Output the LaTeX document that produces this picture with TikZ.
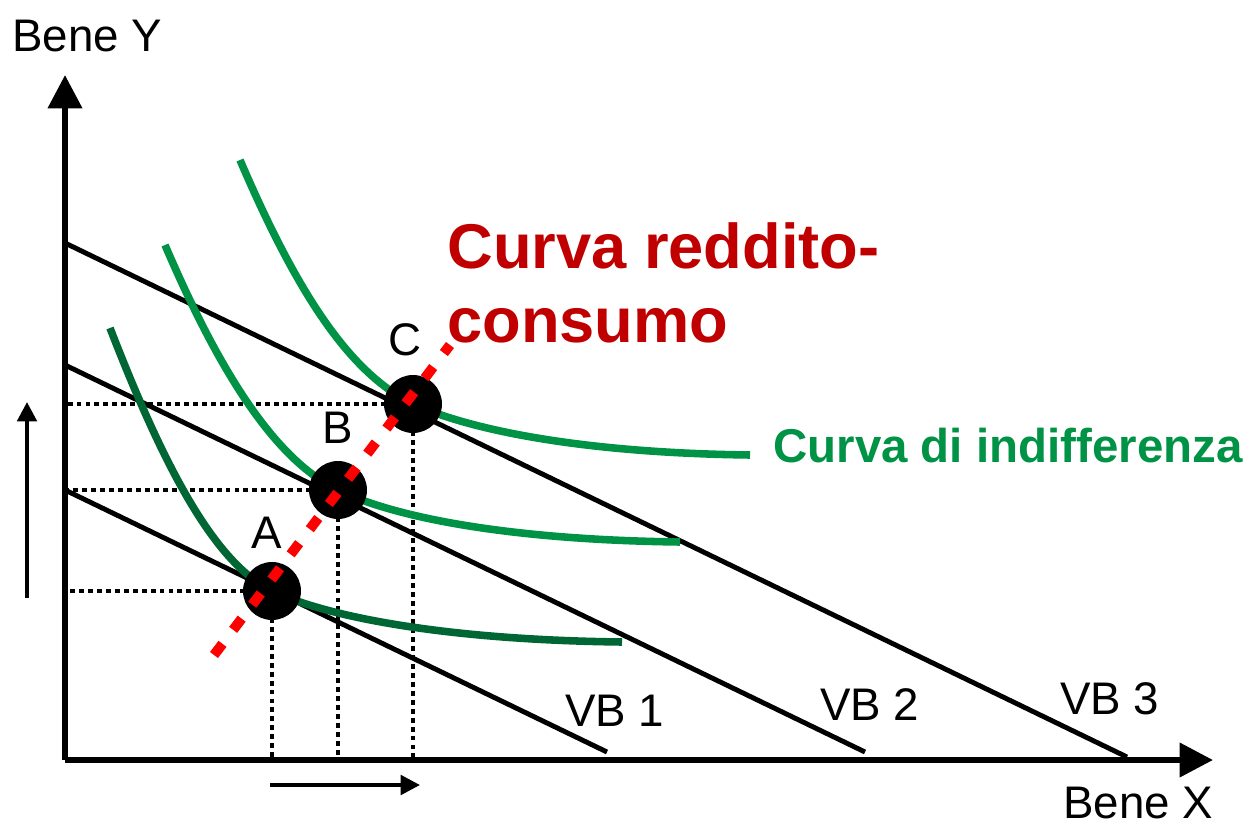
\documentclass[tikz,border=0pt]{standalone}
\usepackage{fontspec}
\setmainfont{Liberation Sans}
\usetikzlibrary{arrows.meta,calc}
\definecolor{icdark}{RGB}{0,102,51}
\definecolor{iclight}{RGB}{0,146,69}
\definecolor{titlered}{RGB}{192,0,0}

\begin{document}
\begin{tikzpicture}[
    x=0.02cm, y=-0.02cm,
    axis/.style={line width=3.4pt, -{Triangle[length=19pt,width=19pt]}},
    budget/.style={line width=2.8pt},
    indiff/.style={line width=4.3pt},
    guide/.style={line width=2pt, dash pattern=on 2.8pt off 2.3pt},
    icc/.style={line width=5.7pt, red, dash pattern=on 8pt off 10pt},
    dot/.style={circle, fill=black, minimum size=33pt, inner sep=0},
    lbl/.style={font=\fontsize{26}{30}\selectfont, inner sep=0, anchor=base west},
    ptlbl/.style={font=\fontsize{26}{30}\selectfont, inner sep=0, anchor=base},
    move/.style={line width=2.3pt, -{Triangle[length=11pt,width=11pt]}}
]
\useasboundingbox (0,0) rectangle (1251,825);

% Axes
\coordinate (O) at (65,760);
\coordinate (ytip) at (65,75);
\coordinate (xtip) at (1213,760);
\draw[axis] (O) -- (ytip);
\draw[axis] (O) -- (xtip);
\node[lbl] (ylab) at (12,51) {Bene Y};
\node[lbl] (xlab) at (1063,818) {Bene X};

% Budget lines
\coordinate (vb1a) at (65,490);
\coordinate (vb1b) at (607,752);
\coordinate (vb2a) at (65,365);
\coordinate (vb2b) at (865,752);
\coordinate (vb3a) at (65,243);
\coordinate (vb3b) at (1127,757);
\draw[budget] (vb1a) -- (vb1b);
\draw[budget] (vb2a) -- (vb2b);
\draw[budget] (vb3a) -- (vb3b);
\node[lbl] (vb1) at (565,726) {VB 1};
\node[lbl] (vb2) at (820,720) {VB 2};
\node[lbl] (vb3) at (1060,714) {VB 3};

% Equilibria
\coordinate (A) at (272,591);
\coordinate (B) at (338,490);
\coordinate (C) at (413,404);

% Guide lines
\draw[guide] (A) -- (A -| O);
\draw[guide] (A) -- (A |- O);
\draw[guide] (B) -- (B -| O);
\draw[guide] (B) -- (B |- O);
\draw[guide] (C) -- (C -| O);
\draw[guide] (C) -- (C |- O);

% Indifference curves
\draw[indiff, icdark] (110,328) .. controls (165,470) and (215,563) .. (A)
    .. controls (330,618) and (450,640) .. (622,642);
\draw[indiff, iclight] (165,245) .. controls (225,385) and (280,462) .. (B)
    .. controls (400,520) and (520,540) .. (680,542);
\draw[indiff, iclight] (240,160) .. controls (300,300) and (352,374) .. (C)
    .. controls (475,432) and (590,453) .. (750,455);
\node[lbl, font=\fontsize{27}{30}\selectfont\bfseries, text=iclight] (iclab) at (773,462) {Curva di indifferenza};

% Points
\node[dot] (pA) at (A) {};
\node[dot] (pB) at (B) {};
\node[dot] (pC) at (C) {};
\node[ptlbl] (lA) at (267,548) {A};
\node[ptlbl] (lB) at (338,443) {B};
\node[ptlbl] (lC) at (405,355) {C};

% Income-consumption curve
\coordinate (icc1) at (214,655);
\coordinate (icc2) at (450,345);
\draw[icc] (icc1) -- (icc2);
\node[lbl, font=\fontsize{36}{42}\selectfont\bfseries, text=titlered] (tit1) at (447,268) {Curva reddito-};
\node[lbl, font=\fontsize{36}{42}\selectfont\bfseries, text=titlered] (tit2) at (447,342) {consumo};

% Shifts
\coordinate (up1) at (27,598);
\coordinate (up2) at (27,402);
\coordinate (rt1) at (270,785);
\coordinate (rt2) at (420,785);
\draw[move] (up1) -- (up2);
\draw[move] (rt1) -- (rt2);
\end{tikzpicture}
\end{document}
